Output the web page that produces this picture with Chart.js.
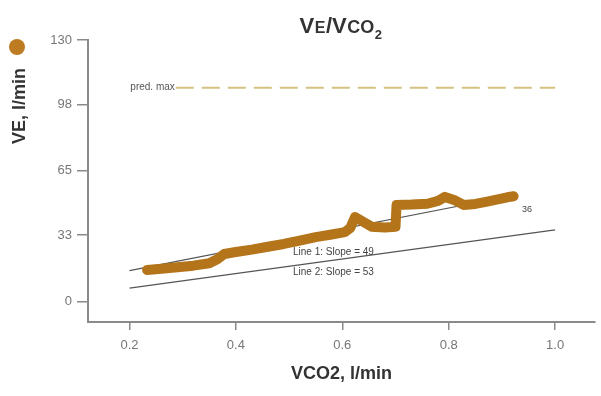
<!DOCTYPE html>
<html>
<head>
<meta charset="utf-8">
<script src="https://cdn.jsdelivr.net/npm/chart.js@4/dist/chart.umd.min.js"></script>
<style>
  body { margin: 0; background: #fff; }
  #wrap { width: 601px; height: 396px; position: relative; }
</style>
</head>
<body>
<div id="wrap"><canvas id="myChart"></canvas></div>
<script>
// VE / VCO2 data
var vco2 = [0.233, 0.26, 0.29, 0.32, 0.35, 0.365, 0.378, 0.40, 0.43, 0.46, 0.49, 0.52, 0.55, 0.58, 0.605, 0.615, 0.624, 0.64, 0.655, 0.68, 0.70, 0.702, 0.73, 0.76, 0.78, 0.793, 0.81, 0.828, 0.85, 0.87, 0.89, 0.91, 0.922];
var ve = [15.7, 16.3, 17.0, 17.8, 19.0, 21.0, 23.6, 24.6, 25.8, 27.2, 28.6, 30.3, 32.0, 33.3, 34.5, 36.5, 42.0, 39.5, 37.2, 36.8, 37.2, 48.0, 48.2, 48.6, 50.0, 52.0, 50.5, 48.0, 48.5, 49.5, 50.6, 51.8, 52.3];

// regression lines (end points)
var line1X = [0.2, 0.92];
var line1Y = [15.3, 52.7];
var line2X = [0.2, 1.0];
var line2Y = [6.6, 35.6];

// predicted max
var predMaxX = [0.287, 1.0];
var predMaxY = [106.3, 106.3];

var xTicks = [0.2, 0.4, 0.6, 0.8, 1.0];
var yTicks = [0, 33, 65, 98, 130];

var lineLabels = ['Line 1: Slope = 49', 'Line 2: Slope = 53'];

function toPoints(xs, ys) {
  var pts = [];
  for (var i = 0; i < xs.length; i++) {
    pts.push({ x: xs[i], y: ys[i] });
  }
  return pts;
}

var fontFam = '"Liberation Sans", Arial, sans-serif';
var axisGray = '#8a8a8a';
var dataColor = '#b3741a';

// draws the title, y title, legend dot and small notes
var extraText = {
  id: 'extraText',
  afterDraw: function (chart) {
    var ctx = chart.ctx;
    var xs = chart.scales.x;
    var ys = chart.scales.y;
    ctx.save();

    // title VE/VCO2 with small letters and subscript
    var parts = [
      { t: 'V', s: 22, dy: 0 },
      { t: 'E', s: 16, dy: 0 },
      { t: '/V', s: 22, dy: 0 },
      { t: 'CO', s: 18, dy: 0 },
      { t: '2', s: 13, dy: 6 }
    ];
    var total = 0;
    parts.forEach(function (p) {
      ctx.font = 'bold ' + p.s + 'px ' + fontFam;
      p.w = ctx.measureText(p.t).width;
      total += p.w + 0.5;
    });
    var tx = 341 - total / 2;
    ctx.fillStyle = '#333';
    ctx.textBaseline = 'alphabetic';
    ctx.textAlign = 'left';
    parts.forEach(function (p) {
      ctx.font = 'bold ' + p.s + 'px ' + fontFam;
      ctx.fillText(p.t, tx, 33 + p.dy);
      tx += p.w + 0.5;
    });

    // y axis title
    ctx.save();
    ctx.translate(20, 106);
    ctx.rotate(-Math.PI / 2);
    ctx.font = 'bold 18px ' + fontFam;
    ctx.textAlign = 'center';
    ctx.textBaseline = 'middle';
    ctx.fillStyle = '#333';
    ctx.fillText('VE, l/min', 0, 0);
    ctx.restore();

    // legend dot
    ctx.beginPath();
    ctx.arc(17, 47, 8, 0, Math.PI * 2);
    ctx.fillStyle = '#bd7c22';
    ctx.fill();

    // pred. max label
    ctx.font = '10px ' + fontFam;
    ctx.fillStyle = '#555';
    ctx.textAlign = 'right';
    ctx.textBaseline = 'middle';
    ctx.fillText('pred. max', xs.getPixelForValue(predMaxX[0]) - 1, ys.getPixelForValue(predMaxY[0]));

    // slope labels
    ctx.textAlign = 'left';
    ctx.fillStyle = '#444';
    ctx.fillText(lineLabels[0], 293, 252);
    ctx.fillText(lineLabels[1], 293, 272);

    // end label
    ctx.font = '9px ' + fontFam;
    ctx.fillText('36', 522, 210);

    ctx.restore();
  }
};

var ctx = document.getElementById('myChart').getContext('2d');
var chart = new Chart(ctx, {
  type: 'scatter',
  data: {
    datasets: [
      {
        label: 'VE',
        data: toPoints(vco2, ve),
        showLine: true,
        borderColor: dataColor,
        backgroundColor: dataColor,
        borderWidth: 10,
        borderCapStyle: 'round',
        borderJoinStyle: 'round',
        pointRadius: 0
      },
      {
        label: 'Line 1',
        data: toPoints(line1X, line1Y),
        showLine: true,
        borderColor: '#555',
        borderWidth: 1.2,
        pointRadius: 0
      },
      {
        label: 'Line 2',
        data: toPoints(line2X, line2Y),
        showLine: true,
        borderColor: '#555',
        borderWidth: 1.2,
        pointRadius: 0
      },
      {
        label: 'pred. max',
        data: toPoints(predMaxX, predMaxY),
        showLine: true,
        borderColor: '#d3c27f',
        borderWidth: 2,
        borderDash: [18, 8],
        pointRadius: 0
      }
    ]
  },
  options: {
    responsive: true,
    maintainAspectRatio: false,
    animation: false,
    layout: { padding: { top: 40, right: 6, left: 0, bottom: 0 } },
    plugins: {
      legend: { display: false },
      title: { display: false },
      tooltip: { enabled: false }
    },
    scales: {
      x: {
        type: 'linear',
        min: 0.122,
        max: 1.075,
        afterBuildTicks: function (scale) {
          scale.ticks = xTicks.map(function (v) { return { value: v }; });
        },
        afterFit: function (scale) { scale.height = 74; },
        ticks: {
          padding: 8,
          color: '#777',
          font: { family: fontFam, size: 13 },
          callback: function (v) { return Number(v).toFixed(1); }
        },
        grid: {
          drawOnChartArea: false,
          drawTicks: true,
          tickLength: 8,
          tickColor: axisGray,
          lineWidth: 1.5
        },
        border: { display: true, color: axisGray, width: 2 },
        title: {
          display: true,
          text: 'VCO2, l/min',
          color: '#333',
          font: { family: fontFam, size: 18, weight: 'bold' },
          padding: { top: 0, bottom: 11 }
        }
      },
      y: {
        type: 'linear',
        min: -10.2,
        max: 130,
        afterBuildTicks: function (scale) {
          scale.ticks = yTicks.map(function (v) { return { value: v }; });
        },
        afterFit: function (scale) { scale.width = 88; },
        ticks: {
          padding: 5,
          color: '#777',
          font: { family: fontFam, size: 13 }
        },
        grid: {
          drawOnChartArea: false,
          drawTicks: true,
          tickLength: 11,
          tickColor: axisGray,
          lineWidth: 1.5
        },
        border: { display: true, color: axisGray, width: 2 }
      }
    }
  },
  plugins: [extraText]
});
</script>
</body>
</html>
